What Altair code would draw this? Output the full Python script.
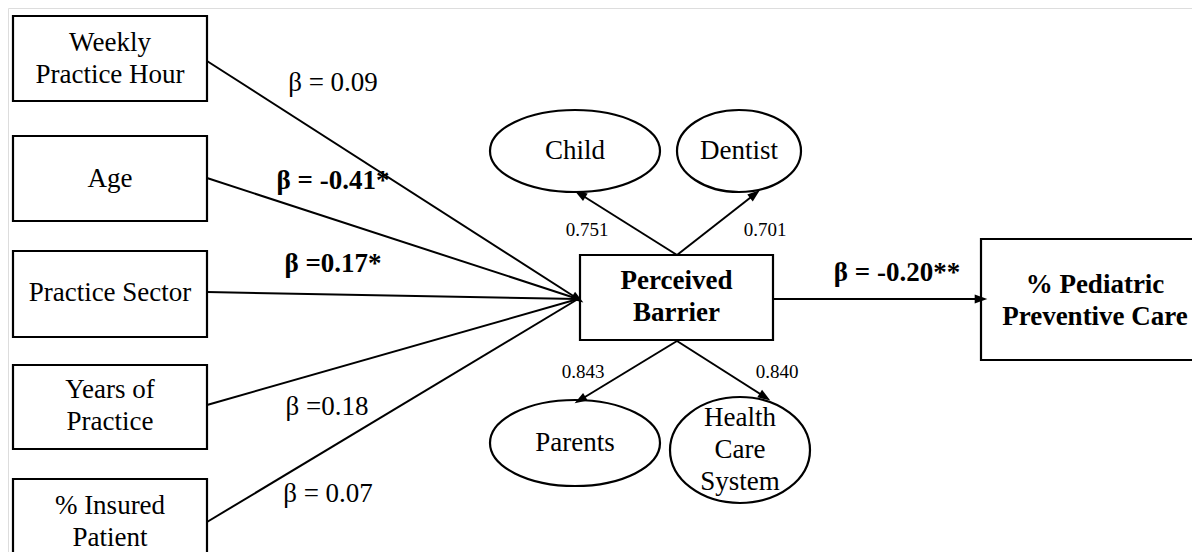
import math
import altair as alt
import pandas as pd

# ---------------- content ----------------
box_labels = ["Weekly\nPractice Hour", "Age", "Practice Sector", "Years of\nPractice",
              "% Insured\nPatient", "Perceived\nBarrier", "% Pediatric\nPreventive Care"]
box_bold = [False, False, False, False, False, True, True]
box_x1 = [13, 13, 13, 13, 13, 580, 981]
box_x2 = [207, 207, 207, 207, 207, 773, 1215]
box_y1 = [16, 136, 251, 365, 479, 255, 239]
box_y2 = [101, 221, 337, 449, 575, 340, 360]
box_ty = [59, 179, 293, 406, 522, 297, 301]

ell_labels = ["Child", "Dentist", "Parents", "Health\nCare\nSystem"]
ell_cx = [575, 739, 575, 740]
ell_cy = [151, 151, 443, 450]
ell_rx = [85, 62, 85, 70]
ell_ry = [41, 41, 43, 53]

# edges: start -> end (arrow at end)
edge_x1 = [207, 207, 207, 207, 207, 677, 677, 677, 677, 773]
edge_y1 = [61, 178, 292, 405, 522, 255, 255, 341, 341, 299]
edge_x2 = [578, 578, 578, 578, 578, 580, 755, 580, 765, 981]
edge_y2 = [299, 299, 299, 299, 299, 194, 194, 400, 397, 299]
edge_head = [True, False, False, False, False, True, True, True, True, True]

coef_labels = ["β = 0.09", "β = -0.41*", "β =0.17*", "β =0.18", "β = 0.07", "β = -0.20**"]
coef_bold = [False, True, True, False, False, True]
coef_x = [333, 333, 333, 327, 328, 897]
coef_y = [83, 181, 264, 407, 494, 273]

load_labels = ["0.751", "0.701", "0.843", "0.840"]
load_x = [587, 765, 583, 777]
load_y = [230, 230, 372, 372]

FONT = "Liberation Serif"
LH = 32

# ---------------- tables ----------------
def first_line_y(labels, centers):
    return [c - (lab.count("\n")) * LH / 2 for lab, c in zip(labels, centers)]


boxes = pd.DataFrame({"label": box_labels, "bold": box_bold, "x1": box_x1, "x2": box_x2,
                      "y1": box_y1, "y2": box_y2,
                      "ty": first_line_y(box_labels, box_ty),
                      "tx": [(a + b) / 2 if b < 1200 else 1095 for a, b in zip(box_x1, box_x2)]})
ells = pd.DataFrame({"label": ell_labels, "cx": ell_cx, "cy": ell_cy,
                     "ty": first_line_y(ell_labels, ell_cy)})
edges = pd.DataFrame({"x1": edge_x1, "y1": edge_y1, "x2": edge_x2, "y2": edge_y2, "head": edge_head})
edges["angle"] = [
    (math.degrees(math.atan2(b - a, -(d - c))) + 360) % 360
    for a, b, c, d in zip(edge_x1, edge_x2, edge_y1, edge_y2)
]
coefs = pd.DataFrame({"label": coef_labels, "bold": coef_bold, "x": coef_x, "y": coef_y})
loads = pd.DataFrame({"label": load_labels, "x": load_x, "y": load_y})

W, H = 1184, 544
xs = alt.Scale(domain=[8, 8 + W], nice=False, zero=False)
ys = alt.Scale(domain=[8, 8 + H], nice=False, zero=False, reverse=True)


def X(f):
    return alt.X(f, type="quantitative", scale=xs, axis=None)


def Y(f):
    return alt.Y(f, type="quantitative", scale=ys, axis=None)


rules = alt.Chart(edges).mark_rule(color="black", strokeWidth=2).encode(
    x=X("x1"), y=Y("y1"), x2="x2", y2="y2")

heads = alt.Chart(edges).transform_filter("datum.head").mark_point(
    shape="M0,-1 L0.7,1 L-0.7,1 Z", filled=True, color="black", size=160, opacity=1
).encode(x=X("x2"), y=Y("y2"), angle=alt.Angle("angle:Q", scale=None))

rects = alt.Chart(boxes).mark_rect(fill="white", stroke="black", strokeWidth=2.2).encode(
    x=X("x1"), x2="x2", y=Y("y1"), y2="y2")

layers = [rules, rects]

# ellipses: one point layer per ellipse with custom unit path
for i in range(len(ell_labels)):
    r = ell_ry[i] / ell_rx[i]
    path = f"M-1,0 A1,{r:.4f} 0 1,1 1,0 A1,{r:.4f} 0 1,1 -1,0 Z"
    layers.append(
        alt.Chart(ells.iloc[[i]]).mark_point(
            shape=path, filled=True, fill="white", stroke="black", strokeWidth=2.2,
            size=(2 * ell_rx[i]) ** 2, opacity=1, fillOpacity=1, strokeOpacity=1
        ).encode(x=X("cx"), y=Y("cy"))
    )

layers.append(heads)


def text_layer(df, xf, yf, size, weight, filt=None):
    c = alt.Chart(df)
    if filt is not None:
        c = c.transform_filter(filt)
    return c.mark_text(
        font=FONT, fontSize=size, fontWeight=weight, lineBreak="\n", lineHeight=LH,
        baseline="middle", align="center", color="black"
    ).encode(x=X(xf), y=Y(yf), text="label:N")


layers += [
    text_layer(boxes, "tx", "ty", 27, "normal", "!datum.bold"),
    text_layer(boxes, "tx", "ty", 27, "bold", "datum.bold"),
    text_layer(ells, "cx", "ty", 27, "normal"),
    text_layer(coefs, "x", "y", 27, "normal", "!datum.bold"),
    text_layer(coefs, "x", "y", 27, "bold", "datum.bold"),
    text_layer(loads, "x", "y", 19, "normal"),
]

chart = alt.layer(*layers).properties(
    width=W, height=H, autosize=alt.AutoSizeParams(type="none"), padding=0
).configure_view(strokeWidth=0).configure(background="white")

chart.save("out.html", embed_options={"renderer": "svg", "actions": False})
